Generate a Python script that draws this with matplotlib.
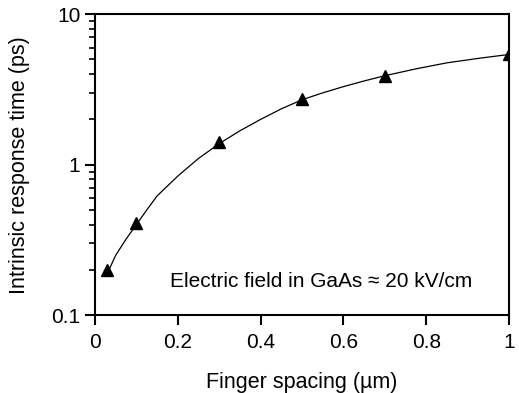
import matplotlib
matplotlib.use('Agg')
import matplotlib.pyplot as plt
from matplotlib.ticker import LogLocator, NullFormatter, FixedLocator

plt.rcParams['font.family'] = ['Liberation Sans', 'DejaVu Sans']

# measured points (triangles)
spacing = [0.03, 0.1, 0.3, 0.5, 0.7, 1.0]
resp_time = [0.20, 0.41, 1.41, 2.75, 3.9, 5.4]

# fitted curve
curve_x = [0.03, 0.05, 0.075, 0.1, 0.125, 0.15, 0.2, 0.25, 0.3, 0.35, 0.4,
           0.45, 0.5, 0.55, 0.6, 0.65, 0.7, 0.775, 0.85, 0.925, 1.0]
curve_y = [0.19, 0.25, 0.32, 0.40, 0.50, 0.62, 0.84, 1.1, 1.38, 1.68, 2.0,
           2.35, 2.7, 3.0, 3.3, 3.6, 3.9, 4.33, 4.75, 5.08, 5.4]

xticks = [0, 0.2, 0.4, 0.6, 0.8, 1]
xticklabels = ['0', '0.2', '0.4', '0.6', '0.8', '1']
yticks = [0.1, 1, 10]
yticklabels = ['0.1', '1', '10']

fig = plt.figure(figsize=(5.19, 3.93), dpi=100)
ax = fig.add_axes([0.183, 0.198, 0.798, 0.766])

ax.plot(curve_x, curve_y, color='black', linewidth=0.9)
ax.plot(spacing, resp_time, linestyle='none', marker='^', color='black', markersize=8)

ax.set_yscale('log')
ax.set_xlim(0, 1)
ax.set_ylim(0.1, 10)

ax.set_xticks(xticks)
ax.set_xticklabels(xticklabels)
ax.yaxis.set_major_locator(FixedLocator(yticks))
ax.set_yticklabels(yticklabels)
ax.yaxis.set_minor_locator(LogLocator(base=10, subs=range(2, 10)))
ax.yaxis.set_minor_formatter(NullFormatter())

ax.tick_params(axis='both', which='major', direction='out', length=7, width=1.5,
               labelsize=15, top=False, right=False)
ax.tick_params(axis='x', which='major', pad=6)
ax.tick_params(axis='both', which='minor', direction='out', length=4, width=1.2,
               top=False, right=False)
for s in ax.spines.values():
    s.set_linewidth(1.5)

ax.set_xlabel('Finger spacing (\u00b5m)', fontsize=15.5, labelpad=14)
ax.set_ylabel('Intrinsic response time (ps)', fontsize=15.5, labelpad=15)

ax.text(0.18, 0.167, 'Electric field in GaAs \u2248 20 kV/cm', fontsize=15,
        transform=ax.transData, va='center', ha='left')

fig.savefig('out.png', dpi=100)
